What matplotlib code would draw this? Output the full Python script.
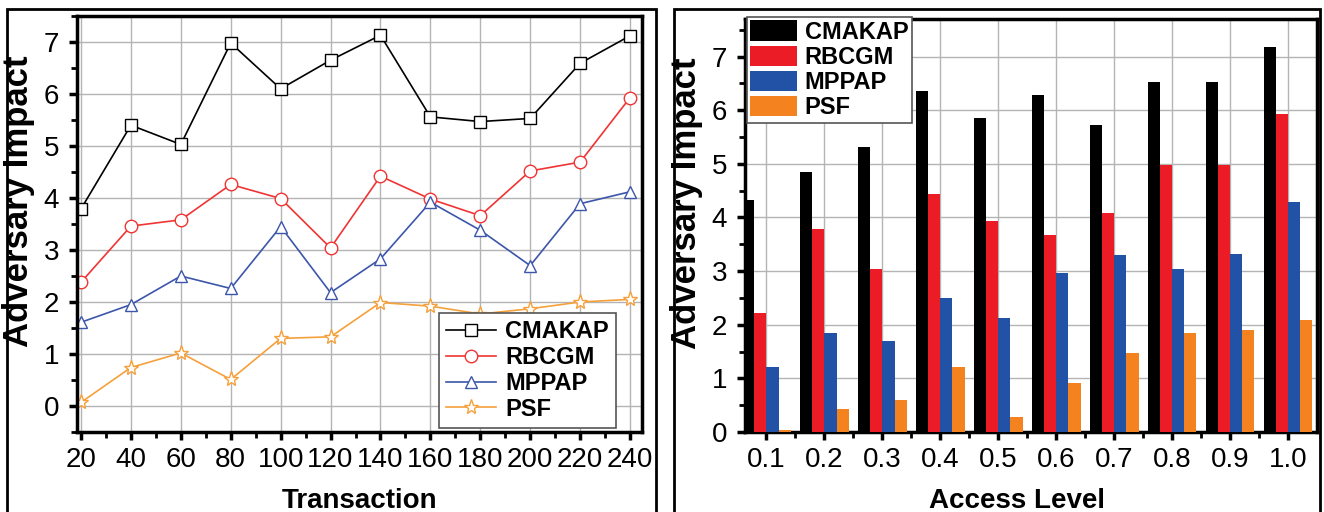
import matplotlib
matplotlib.use('Agg')
import matplotlib.pyplot as plt
import numpy as np
from matplotlib.patches import Rectangle

plt.rcParams['font.family'] = ['Liberation Sans', 'DejaVu Sans']

# left panel: impact against number of transactions
transactions = [20, 40, 60, 80, 100, 120, 140, 160, 180, 200, 220, 240]
line_cmakap = [3.79, 5.40, 5.03, 6.98, 6.10, 6.65, 7.13, 5.56, 5.47, 5.53, 6.59, 7.12]
line_rbcgm = [2.38, 3.46, 3.58, 4.26, 3.99, 3.04, 4.42, 3.98, 3.66, 4.52, 4.69, 5.93]
line_mppap = [1.61, 1.95, 2.50, 2.26, 3.45, 2.18, 2.83, 3.92, 3.38, 2.70, 3.89, 4.12]
line_psf = [0.07, 0.74, 1.02, 0.51, 1.30, 1.33, 1.99, 1.92, 1.77, 1.87, 2.00, 2.05]

# right panel: impact against access level
access = [0.1, 0.2, 0.3, 0.4, 0.5, 0.6, 0.7, 0.8, 0.9, 1.0]
access_labels = ['0.1', '0.2', '0.3', '0.4', '0.5', '0.6', '0.7', '0.8', '0.9', '1.0']
bar_cmakap = [4.32, 4.85, 5.32, 6.36, 5.86, 6.29, 5.73, 6.53, 6.52, 7.17]
bar_rbcgm = [2.21, 3.78, 3.04, 4.44, 3.94, 3.68, 4.08, 4.98, 4.98, 5.93]
bar_mppap = [1.22, 1.84, 1.69, 2.50, 2.13, 2.96, 3.30, 3.03, 3.32, 4.28]
bar_psf = [0.03, 0.42, 0.59, 1.21, 0.28, 0.91, 1.47, 1.84, 1.91, 2.08]

names = ['CMAKAP', 'RBCGM', 'MPPAP', 'PSF']
line_colors = ['black', '#f03434', '#3c56aa', '#f5a03a']
bar_colors = ['black', '#ec1c26', '#2152a6', '#f4821f']
markers = ['s', 'o', '^', '*']

fig = plt.figure(figsize=(13.24, 5.12), dpi=100)

# outer boxes around each panel
for x0, x1 in [(7, 656), (674, 1320)]:
    fig.patches.append(Rectangle((x0 / 1324, -0.05), (x1 - x0) / 1324, 1.05 - 9 / 512,
                                 transform=fig.transFigure, fill=False,
                                 edgecolor='black', linewidth=2))

ax1 = fig.add_axes([77 / 1324, 1 - 432 / 512, 565 / 1324, 416 / 512])
ax2 = fig.add_axes([745 / 1324, 1 - 432 / 512, 572 / 1324, 413 / 512])


def style_axes(ax):
    for s in ax.spines.values():
        s.set_linewidth(2.5)
    ax.tick_params(which='major', direction='out', length=6, width=2.5,
                   labelsize=20, pad=5)
    ax.tick_params(axis='y', which='major', pad=7)
    ax.tick_params(which='minor', direction='out', length=4, width=2)
    ax.grid(True, which='major', color='#b4b4b4', linewidth=1)
    ax.set_axisbelow(True)
    ax.set_ylabel('Adversary Impact', fontsize=25, fontweight='bold')
    ax.yaxis.set_label_coords(-0.074, 0.555)


# line chart
series = [line_cmakap, line_rbcgm, line_mppap, line_psf]
for vals, name, c, m in zip(series, names, line_colors, markers):
    ms = 11 if m == '*' else 9
    ax1.plot(transactions, vals, color=c, marker=m, markersize=ms,
             markerfacecolor='white', markeredgecolor=c, markeredgewidth=1,
             linewidth=1.2, label=name)
ax1.set_xlim(18.4, 244.8)
ax1.set_ylim(-0.5, 7.5)
ax1.set_xticks(transactions)
ax1.set_xticks(np.arange(30, 240, 20), minor=True)
ax1.set_yticks(range(0, 8))
ax1.set_yticks(np.arange(-0.5, 7.6, 1), minor=True)
style_axes(ax1)
ax1.set_xlabel('Transaction', fontsize=20, fontweight='bold')
ax1.xaxis.set_label_coords(0.5, -0.135)
leg1 = ax1.legend(loc='lower right', bbox_to_anchor=(0.954, 0.01),
                  prop={'weight': 'bold', 'size': 17}, fancybox=False,
                  edgecolor='#555555', framealpha=1, handlelength=2.1,
                  labelspacing=0.12, borderpad=0.3, handletextpad=0.4,
                  borderaxespad=0)
leg1.get_frame().set_linewidth(1.2)

# grouped bar chart
w = 0.021
bars = [bar_cmakap, bar_rbcgm, bar_mppap, bar_psf]
for i, (vals, name, c) in enumerate(zip(bars, names, bar_colors)):
    ax2.bar(np.array(access) + (i - 1.5) * w, vals, width=w, color=c,
            label=name, zorder=3)
ax2.set_xlim(0.063, 1.05)
ax2.set_ylim(0, 7.7)
ax2.set_xticks(access)
ax2.set_xticklabels(access_labels)
ax2.set_xticks(np.arange(0.15, 1.0, 0.1), minor=True)
ax2.set_yticks(range(0, 8))
ax2.set_yticks(np.arange(0.5, 7.6, 1), minor=True)
style_axes(ax2)
ax2.set_xlabel('Access Level', fontsize=20, fontweight='bold')
ax2.xaxis.set_label_coords(0.476, -0.135)
leg2 = ax2.legend(loc='upper left', bbox_to_anchor=(0.003, 1.005),
                  prop={'weight': 'bold', 'size': 17}, fancybox=False,
                  edgecolor='#555555', framealpha=1, handlelength=2.0,
                  handleheight=0.95, labelspacing=0.08, borderpad=0.15,
                  handletextpad=0.3, borderaxespad=0)
leg2.get_frame().set_linewidth(1.2)
leg2.set_zorder(5)

fig.savefig('out.png', dpi=100)
